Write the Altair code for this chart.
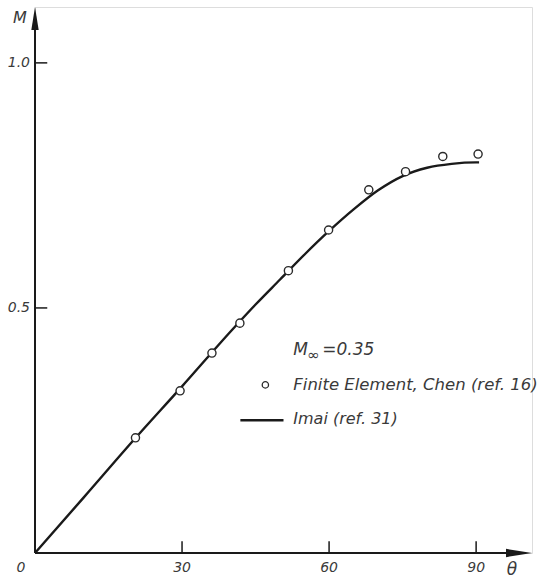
import altair as alt
import pandas as pd

# ---- data ----
theta_fe = [20.5, 29.6, 36.1, 41.8, 51.7, 59.9, 68.1, 75.6, 83.2, 90.4]
m_fe = [0.235, 0.331, 0.408, 0.469, 0.576, 0.659, 0.741, 0.778, 0.809, 0.814]

theta_imai = [0, 10, 20, 30, 40, 45, 50, 55, 60, 65, 70, 75, 80, 85, 90, 90.6]
m_imai = [0, 0.114, 0.229, 0.340, 0.453, 0.507, 0.558, 0.609, 0.657, 0.701,
          0.740, 0.769, 0.786, 0.794, 0.797, 0.797]

x_ticks = [30, 60, 90]
x_tick_labels = ["30", "60", "90"]
y_ticks = [0.5, 1.0]
y_tick_labels = ["0.5", "1.0"]

X_MAX = 101.4
Y_MAX = 1.114

xs = alt.Scale(domain=[0, X_MAX], nice=False, zero=False)
ys = alt.Scale(domain=[0, Y_MAX], nice=False, zero=False)

INK = "#1a1a1a"
TXT = "#3a3a3a"
FONT = "DejaVu Sans"


def X(f="x", **kw):
    return alt.X(f, type="quantitative", scale=xs, axis=None, **kw)


def Y(f="y", **kw):
    return alt.Y(f, type="quantitative", scale=ys, axis=None, **kw)


# axis lines
axes_df = pd.DataFrame({"x": [0, 0], "y": [0, 0], "x2": [X_MAX - 3, 0], "y2": [0, Y_MAX - 0.03]})
axes = alt.Chart(axes_df).mark_rule(color=INK, strokeWidth=2).encode(
    x=X(), y=Y(), x2="x2:Q", y2="y2:Q")

# inward ticks
xt_df = pd.DataFrame({"x": x_ticks, "y": [0] * 3, "y2": [0.024] * 3})
xt = alt.Chart(xt_df).mark_rule(color=INK, strokeWidth=1.5).encode(x=X(), y=Y(), y2="y2:Q")
yt_df = pd.DataFrame({"x": [0, 0], "x2": [2.5, 2.5], "y": y_ticks})
yt = alt.Chart(yt_df).mark_rule(color=INK, strokeWidth=1.5).encode(x=X(), x2="x2:Q", y=Y())

# arrowheads
arr_x = alt.Chart(pd.DataFrame({"x": [X_MAX], "y": [0]})).mark_point(
    shape="M -2 -0.32 L 0 0 L -2 0.32 Z", size=676, filled=True, color=INK, opacity=1,
    strokeWidth=0).encode(x=X(), y=Y())
arr_y = alt.Chart(pd.DataFrame({"x": [0], "y": [Y_MAX]})).mark_point(
    shape="M -0.32 2 L 0 0 L 0.32 2 Z", size=529, filled=True, color=INK, opacity=1,
    strokeWidth=0).encode(x=X(), y=Y())

# Imai curve
imai_df = pd.DataFrame({"x": theta_imai, "y": m_imai})
imai = alt.Chart(imai_df).mark_line(color=INK, strokeWidth=2.4, interpolate="monotone").encode(
    x=X(), y=Y())

# finite element circles
fe_df = pd.DataFrame({"x": theta_fe, "y": m_fe})
fe = alt.Chart(fe_df).mark_point(shape="circle", size=66, filled=False, fill="white",
                                 fillOpacity=1, stroke="#2a2a2a", strokeWidth=1.4,
                                 opacity=1).encode(x=X(), y=Y())

# legend symbols
leg_c = alt.Chart(pd.DataFrame({"x": [47.0], "y": [0.343]})).mark_point(
    shape="circle", size=40, filled=False, fill="white", fillOpacity=1, stroke="#2a2a2a",
    strokeWidth=1.3, opacity=1).encode(x=X(), y=Y())
leg_l = alt.Chart(pd.DataFrame({"x": [41.9], "x2": [50.7], "y": [0.271]})).mark_rule(
    color=INK, strokeWidth=2.4).encode(x=X(), x2="x2:Q", y=Y())


# texts
def txt(df, **kw):
    base = dict(font=FONT, fontStyle="italic", fontWeight=300, color=TXT, baseline="middle")
    base.update(kw)
    return alt.Chart(df).mark_text(**base).encode(x=X(), y=Y(), text="t:N")


xl = txt(pd.DataFrame({"x": x_ticks, "y": [0] * 3, "t": x_tick_labels}), fontSize=14,
         align="center", dy=15)
zl = txt(pd.DataFrame({"x": [0], "y": [0], "t": ["0"]}), fontSize=14, align="center", dy=15, dx=-14)
yl = txt(pd.DataFrame({"x": [0, 0], "y": y_ticks, "t": y_tick_labels}), fontSize=14,
         align="right", dx=-5)
m_lab = txt(pd.DataFrame({"x": [0], "y": [Y_MAX], "t": ["M"]}), fontSize=16, align="center",
            dx=-15, dy=11)
th_lab = txt(pd.DataFrame({"x": [X_MAX], "y": [0], "t": ["θ"]}), fontSize=17, align="center",
             dx=-20, dy=17)

minf1 = txt(pd.DataFrame({"x": [52.7], "y": [0.414], "t": ["M"]}), fontSize=17, align="left")
minf2 = txt(pd.DataFrame({"x": [52.7], "y": [0.414], "t": ["∞"]}), fontSize=15, align="left",
            dx=14, dy=5)
minf3 = txt(pd.DataFrame({"x": [52.7], "y": [0.414], "t": ["=0.35"]}), fontSize=17, align="left",
            dx=29)
leg1 = txt(pd.DataFrame({"x": [52.7], "y": [0.343], "t": ["Finite  Element, Chen (ref. 16)"]}),
           fontSize=16.5, align="left")
leg2 = txt(pd.DataFrame({"x": [52.7], "y": [0.274], "t": ["Imai (ref. 31)"]}),
           fontSize=16, align="left")

chart = alt.layer(
    axes, xt, yt, arr_x, arr_y, imai, fe, leg_c, leg_l,
    xl, zl, yl, m_lab, th_lab, minf1, minf2, minf3, leg1, leg2,
).properties(
    width=497, height=546,
    autosize=alt.AutoSizeParams(type="none"),
    padding={"left": 35, "top": 7, "right": 20, "bottom": 27},
).configure_view(stroke=None).configure(background="white")

chart.save("out.html", embed_options={"renderer": "svg", "actions": False})
